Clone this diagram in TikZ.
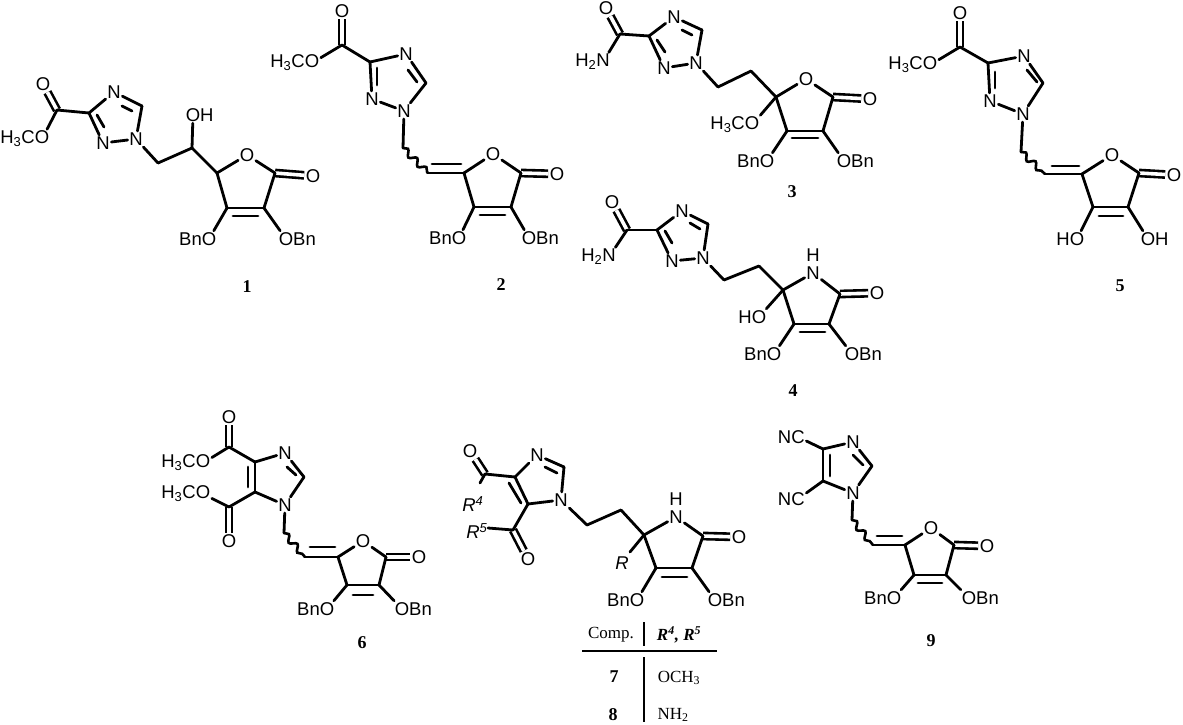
\documentclass[tikz,border=0pt]{standalone}
\usepackage{fontspec}
\setmainfont{Liberation Sans}
\newfontfamily\serifcpd{Liberation Serif}
\usetikzlibrary{decorations.pathmorphing}
\tikzset{
atom/.style={inner sep=1.5pt, font=\fontsize{18.5}{20}\selectfont},
cpd/.style={inner sep=0pt, font=\serifcpd\bfseries\fontsize{18}{20}\selectfont},
tabtext/.style={inner sep=0pt, font=\serifcpd\fontsize{17}{20}\selectfont},
bond/.style={line width=2.8pt, line cap=round, line join=round},
dblbond/.style={line width=2.6pt, double, double distance=3.6pt},
wavy/.style={line width=2.6pt, line cap=round, decorate, decoration={snake, amplitude=3pt, segment length=13pt}}
}
\begin{document}
\begin{tikzpicture}[x=1pt,y=-1pt]
\useasboundingbox (0,0) rectangle (1183,725);
\node[atom] (a1o0) at (43,84){O};
\coordinate (a1c0) at (57,110);
\node[atom] (a1o1) at (42,139){\llap{H\textsubscript{3}C}O};
\coordinate (a1c1) at (89,113);
\node[atom] (a1n0) at (114,92){N};
\coordinate (a1c2) at (142,106);
\node[atom] (a1n1) at (136,139){N};
\node[atom] (a1n2) at (103,143){N};
\coordinate (a1c3) at (158,163);
\coordinate (a1c4) at (192,148);
\node[atom] (a1o2) at (193,115){O\rlap{H}};
\coordinate (a1c5) at (217,173);
\node[atom] (a1o3) at (247,155){O};
\coordinate (a1c6) at (275,173);
\node[atom] (a1o4) at (313,176){O};
\coordinate (a1c7) at (227,208);
\coordinate (a1c8) at (264,208);
\node[atom] (a1o5) at (209,239){\llap{Bn}O};
\node[atom] (a1o6) at (286,239){O\rlap{Bn}};
\coordinate (a1d0) at (97,115);
\coordinate (a1d1) at (104,127);
\coordinate (a1d2) at (122,106);
\coordinate (a1d3) at (132,111);
\coordinate (a1d4) at (233,216);
\coordinate (a1d5) at (258,216);
\draw[dblbond](a1c0) -- (a1o0);
\draw[dblbond](a1c6) -- (a1o4);
\draw[bond](a1c0) -- (a1o1);
\draw[bond](a1c0) -- (a1c1);
\draw[bond](a1c1) -- (a1n0);
\draw[bond](a1n0) -- (a1c2);
\draw[bond](a1c2) -- (a1n1);
\draw[bond](a1n1) -- (a1n2);
\draw[bond](a1n2) -- (a1c1);
\draw[bond](a1d0) -- (a1d1);
\draw[bond](a1d2) -- (a1d3);
\draw[bond](a1n1) -- (a1c3);
\draw[bond](a1c3) -- (a1c4);
\draw[bond](a1c4) -- (a1o2);
\draw[bond](a1c4) -- (a1c5);
\draw[bond](a1c5) -- (a1o3);
\draw[bond](a1o3) -- (a1c6);
\draw[bond](a1c6) -- (a1c8);
\draw[bond](a1c8) -- (a1c7);
\draw[bond](a1c7) -- (a1c5);
\draw[bond](a1d4) -- (a1d5);
\draw[bond](a1c7) -- (a1o5);
\draw[bond](a1c8) -- (a1o6);
\node[cpd] (a1l) at (247,287){1};
\node[atom] (a2o0) at (342,11){O};
\coordinate (a2c0) at (342,45);
\node[atom] (a2o1) at (312,63){\llap{H\textsubscript{3}C}O};
\coordinate (a2c1) at (370,62);
\node[atom] (a2n0) at (406,54){N};
\coordinate (a2c2) at (426,83);
\node[atom] (a2n1) at (404,111){N};
\node[atom] (a2n2) at (372,99){N};
\coordinate (a2w0) at (403,148);
\coordinate (a2w1) at (428,173);
\coordinate (a2c3) at (464,173);
\node[atom] (a2o2) at (493,154){O};
\coordinate (a2c4) at (521,173);
\node[atom] (a2o3) at (557,174){O};
\coordinate (a2c5) at (474,207);
\coordinate (a2c6) at (511,207);
\node[atom] (a2o4) at (459,238){\llap{Bn}O};
\node[atom] (a2o5) at (529,238){O\rlap{Bn}};
\coordinate (a2d0) at (377,68);
\coordinate (a2d1) at (377,85);
\coordinate (a2d2) at (408,70);
\coordinate (a2d3) at (417,82);
\coordinate (a2d4) at (432,164);
\coordinate (a2d5) at (461,164);
\coordinate (a2d6) at (480,215);
\coordinate (a2d7) at (505,215);
\draw[dblbond](a2c0) -- (a2o0);
\draw[dblbond](a2c4) -- (a2o3);
\draw[bond](a2c0) -- (a2o1);
\draw[bond](a2c0) -- (a2c1);
\draw[bond](a2c1) -- (a2n0);
\draw[bond](a2n0) -- (a2c2);
\draw[bond](a2c2) -- (a2n1);
\draw[bond](a2n1) -- (a2n2);
\draw[bond](a2n2) -- (a2c1);
\draw[bond](a2d0) -- (a2d1);
\draw[bond](a2d2) -- (a2d3);
\draw[bond](a2n1) -- (a2w0);
\draw[wavy](a2w0) -- (a2w1);
\draw[bond](a2w1) -- (a2c3);
\draw[bond](a2d4) -- (a2d5);
\draw[bond](a2c3) -- (a2o2);
\draw[bond](a2o2) -- (a2c4);
\draw[bond](a2c4) -- (a2c6);
\draw[bond](a2c6) -- (a2c5);
\draw[bond](a2c5) -- (a2c3);
\draw[bond](a2d6) -- (a2d7);
\draw[bond](a2c5) -- (a2o4);
\draw[bond](a2c6) -- (a2o5);
\node[cpd] (a2l) at (501,285){2};
\node[atom] (a3o0) at (606,8){O};
\coordinate (a3c0) at (620,34);
\node[atom] (a3n3) at (603,62){\llap{H\textsubscript{2}}N};
\coordinate (a3c1) at (649,36);
\node[atom] (a3n0) at (674,17){N};
\coordinate (a3c2) at (702,30);
\node[atom] (a3n1) at (696,63){N};
\node[atom] (a3n2) at (664,68){N};
\coordinate (a3c3) at (718,87);
\coordinate (a3c4) at (751,71);
\coordinate (a3c5) at (776,97);
\node[atom] (a3o1) at (806,79){O};
\coordinate (a3c6) at (833,97);
\node[atom] (a3o2) at (870,99){O};
\coordinate (a3c7) at (787,131);
\coordinate (a3c8) at (823,131);
\node[atom] (a3o3) at (752,125){\llap{H\textsubscript{3}C}O};
\node[atom] (a3o4) at (767,161){\llap{Bn}O};
\node[atom] (a3o5) at (844,161){O\rlap{Bn}};
\coordinate (a3d0) at (657,40);
\coordinate (a3d1) at (665,52);
\coordinate (a3d2) at (682,30);
\coordinate (a3d3) at (692,35);
\coordinate (a3d4) at (792,138);
\coordinate (a3d5) at (818,138);
\draw[dblbond](a3c0) -- (a3o0);
\draw[dblbond](a3c6) -- (a3o2);
\draw[bond](a3c0) -- (a3n3);
\draw[bond](a3c0) -- (a3c1);
\draw[bond](a3c1) -- (a3n0);
\draw[bond](a3n0) -- (a3c2);
\draw[bond](a3c2) -- (a3n1);
\draw[bond](a3n1) -- (a3n2);
\draw[bond](a3n2) -- (a3c1);
\draw[bond](a3d0) -- (a3d1);
\draw[bond](a3d2) -- (a3d3);
\draw[bond](a3n1) -- (a3c3);
\draw[bond](a3c3) -- (a3c4);
\draw[bond](a3c4) -- (a3c5);
\draw[bond](a3c5) -- (a3o1);
\draw[bond](a3o1) -- (a3c6);
\draw[bond](a3c6) -- (a3c8);
\draw[bond](a3c8) -- (a3c7);
\draw[bond](a3c7) -- (a3c5);
\draw[bond](a3d4) -- (a3d5);
\draw[bond](a3c5) -- (a3o3);
\draw[bond](a3c7) -- (a3o4);
\draw[bond](a3c8) -- (a3o5);
\node[cpd] (a3l) at (792,192){3};
\node[atom] (a4o0) at (612,202){O};
\coordinate (a4c0) at (627,230);
\node[atom] (a4n3) at (609,257){\llap{H\textsubscript{2}}N};
\coordinate (a4c1) at (657,230);
\node[atom] (a4n0) at (682,211){N};
\coordinate (a4c2) at (708,224);
\node[atom] (a4n1) at (703,258){N};
\node[atom] (a4n2) at (672,261){N};
\coordinate (a4c3) at (724,280);
\coordinate (a4c4) at (759,266);
\coordinate (a4c5) at (783,290);
\node[atom] (a4n4) at (813,273){N};
\node[atom] (a4h0) at (813,255){H};
\coordinate (a4c6) at (840,294);
\node[atom] (a4o1) at (877,293){O};
\coordinate (a4c7) at (794,324);
\coordinate (a4c8) at (829,324);
\node[atom] (a4o2) at (759,317){\llap{H}O};
\node[atom] (a4o3) at (774,354){\llap{Bn}O};
\node[atom] (a4o4) at (852,354){O\rlap{Bn}};
\coordinate (a4d0) at (665,231);
\coordinate (a4d1) at (672,243);
\coordinate (a4d2) at (690,223);
\coordinate (a4d3) at (700,229);
\coordinate (a4d4) at (800,332);
\coordinate (a4d5) at (825,332);
\draw[dblbond](a4c0) -- (a4o0);
\draw[dblbond](a4c6) -- (a4o1);
\draw[bond](a4c0) -- (a4n3);
\draw[bond](a4c0) -- (a4c1);
\draw[bond](a4c1) -- (a4n0);
\draw[bond](a4n0) -- (a4c2);
\draw[bond](a4c2) -- (a4n1);
\draw[bond](a4n1) -- (a4n2);
\draw[bond](a4n2) -- (a4c1);
\draw[bond](a4d0) -- (a4d1);
\draw[bond](a4d2) -- (a4d3);
\draw[bond](a4n1) -- (a4c3);
\draw[bond](a4c3) -- (a4c4);
\draw[bond](a4c4) -- (a4c5);
\draw[bond](a4c5) -- (a4n4);
\draw[bond](a4n4) -- (a4c6);
\draw[bond](a4c6) -- (a4c8);
\draw[bond](a4c8) -- (a4c7);
\draw[bond](a4c7) -- (a4c5);
\draw[bond](a4d4) -- (a4d5);
\draw[bond](a4c5) -- (a4o2);
\draw[bond](a4c7) -- (a4o3);
\draw[bond](a4c8) -- (a4o4);
\node[cpd] (a4l) at (793,391){4};
\node[atom] (a5o0) at (960,13){O};
\coordinate (a5c0) at (960,47);
\node[atom] (a5o1) at (930,65){\llap{H\textsubscript{3}C}O};
\coordinate (a5c1) at (988,63);
\node[atom] (a5n0) at (1024,56){N};
\coordinate (a5c2) at (1043,83);
\node[atom] (a5n1) at (1023,114){N};
\node[atom] (a5n2) at (990,101){N};
\coordinate (a5w0) at (1021,152);
\coordinate (a5w1) at (1045,174);
\coordinate (a5c3) at (1082,174);
\node[atom] (a5o2) at (1112,155){O};
\coordinate (a5c4) at (1139,173);
\node[atom] (a5o3) at (1174,175){O};
\coordinate (a5c5) at (1093,207);
\coordinate (a5c6) at (1128,207);
\node[atom] (a5o4) at (1077,239){\llap{H}O};
\node[atom] (a5o5) at (1148,239){O\rlap{H}};
\coordinate (a5d0) at (995,72);
\coordinate (a5d1) at (995,88);
\coordinate (a5d2) at (1027,70);
\coordinate (a5d3) at (1037,82);
\coordinate (a5d4) at (1052,166);
\coordinate (a5d5) at (1079,166);
\coordinate (a5d6) at (1099,216);
\coordinate (a5d7) at (1123,216);
\draw[dblbond](a5c0) -- (a5o0);
\draw[dblbond](a5c4) -- (a5o3);
\draw[bond](a5c0) -- (a5o1);
\draw[bond](a5c0) -- (a5c1);
\draw[bond](a5c1) -- (a5n0);
\draw[bond](a5n0) -- (a5c2);
\draw[bond](a5c2) -- (a5n1);
\draw[bond](a5n1) -- (a5n2);
\draw[bond](a5n2) -- (a5c1);
\draw[bond](a5d0) -- (a5d1);
\draw[bond](a5d2) -- (a5d3);
\draw[bond](a5n1) -- (a5w0);
\draw[wavy](a5w0) -- (a5w1);
\draw[bond](a5w1) -- (a5c3);
\draw[bond](a5d4) -- (a5d5);
\draw[bond](a5c3) -- (a5o2);
\draw[bond](a5o2) -- (a5c4);
\draw[bond](a5c4) -- (a5c6);
\draw[bond](a5c6) -- (a5c5);
\draw[bond](a5c5) -- (a5c3);
\draw[bond](a5d6) -- (a5d7);
\draw[bond](a5c5) -- (a5o4);
\draw[bond](a5c6) -- (a5o5);
\node[cpd] (a5l) at (1120,286){5};
\node[atom] (a6o0) at (229,417){O};
\coordinate (a6c0) at (229,447);
\node[atom] (a6o1) at (203,463){\llap{H\textsubscript{3}C}O};
\coordinate (a6c1) at (255,462);
\node[atom] (a6n0) at (285,453){N};
\coordinate (a6c2) at (304,477);
\node[atom] (a6n1) at (285,505){N};
\coordinate (a6c3) at (255,492);
\coordinate (a6c4) at (229,507);
\node[atom] (a6o2) at (229,541){O};
\node[atom] (a6o3) at (203,494){\llap{H\textsubscript{3}C}O};
\coordinate (a6w0) at (284,533);
\coordinate (a6w1) at (305,557);
\coordinate (a6c5) at (338,557);
\node[atom] (a6o4) at (363,541){O};
\coordinate (a6c6) at (386,557);
\node[atom] (a6o5) at (419,557){O};
\coordinate (a6c7) at (347,585);
\coordinate (a6c8) at (379,585);
\node[atom] (a6o6) at (327,609){\llap{Bn}O};
\node[atom] (a6o7) at (402,609){O\rlap{Bn}};
\coordinate (a6d0) at (248,467);
\coordinate (a6d1) at (248,487);
\coordinate (a6d2) at (287,467);
\coordinate (a6d3) at (296,475);
\coordinate (a6d4) at (310,547);
\coordinate (a6d5) at (335,547);
\coordinate (a6d6) at (353,595);
\coordinate (a6d7) at (373,595);
\draw[dblbond](a6c0) -- (a6o0);
\draw[dblbond](a6c4) -- (a6o2);
\draw[dblbond](a6c6) -- (a6o5);
\draw[bond](a6c0) -- (a6o1);
\draw[bond](a6c0) -- (a6c1);
\draw[bond](a6c1) -- (a6n0);
\draw[bond](a6n0) -- (a6c2);
\draw[bond](a6c2) -- (a6n1);
\draw[bond](a6n1) -- (a6c3);
\draw[bond](a6c3) -- (a6c1);
\draw[bond](a6c3) -- (a6c4);
\draw[bond](a6c4) -- (a6o3);
\draw[bond](a6d0) -- (a6d1);
\draw[bond](a6d2) -- (a6d3);
\draw[bond](a6n1) -- (a6w0);
\draw[wavy](a6w0) -- (a6w1);
\draw[bond](a6w1) -- (a6c5);
\draw[bond](a6d4) -- (a6d5);
\draw[bond](a6c5) -- (a6o4);
\draw[bond](a6o4) -- (a6c6);
\draw[bond](a6c6) -- (a6c8);
\draw[bond](a6c8) -- (a6c7);
\draw[bond](a6c7) -- (a6c5);
\draw[bond](a6d6) -- (a6d7);
\draw[bond](a6c7) -- (a6o6);
\draw[bond](a6c8) -- (a6o7);
\node[cpd] (a6l) at (362,643){6};
\node[atom] (a7o0) at (470,451){O};
\coordinate (a7c0) at (485,474);
\node[atom] (a7r0) at (469,504){\textit{R\rlap{\textsuperscript{4}}}};
\coordinate (a7e0) at (480,483);
\coordinate (a7c1) at (515,477);
\node[atom] (a7n0) at (537,455){N};
\coordinate (a7c2) at (564,467);
\node[atom] (a7n1) at (561,500){N};
\coordinate (a7c3) at (528,504);
\coordinate (a7c4) at (513,530);
\node[atom] (a7r1) at (473,531){\textit{R\rlap{\textsuperscript{5}}}};
\coordinate (a7e1) at (488,528);
\node[atom] (a7o1) at (528,559){O};
\coordinate (a7c5) at (587,525);
\coordinate (a7c6) at (621,510);
\coordinate (a7c7) at (644,535);
\node[atom] (a7n2) at (676,517){N};
\node[atom] (a7h0) at (676,499){H};
\coordinate (a7c8) at (703,536);
\node[atom] (a7o2) at (739,537){O};
\coordinate (a7c9) at (656,568);
\coordinate (a7c10) at (692,568);
\node[atom] (a7r2) at (622,563){\textit{R}};
\coordinate (a7e2) at (630,552);
\node[atom] (a7o3) at (637,600){\llap{Bn}O};
\node[atom] (a7o4) at (715,600){O\rlap{Bn}};
\coordinate (a7d0) at (509,483);
\coordinate (a7d1) at (521,503);
\coordinate (a7d2) at (545,467);
\coordinate (a7d3) at (557,473);
\coordinate (a7d4) at (662,577);
\coordinate (a7d5) at (687,577);
\draw[dblbond](a7c0) -- (a7o0);
\draw[dblbond](a7c4) -- (a7o1);
\draw[dblbond](a7c8) -- (a7o2);
\draw[bond](a7c0) -- (a7e0);
\draw[bond](a7c0) -- (a7c1);
\draw[bond](a7c1) -- (a7n0);
\draw[bond](a7n0) -- (a7c2);
\draw[bond](a7c2) -- (a7n1);
\draw[bond](a7n1) -- (a7c3);
\draw[bond](a7c3) -- (a7c1);
\draw[bond](a7c3) -- (a7c4);
\draw[bond](a7c4) -- (a7e1);
\draw[bond](a7d0) -- (a7d1);
\draw[bond](a7d2) -- (a7d3);
\draw[bond](a7n1) -- (a7c5);
\draw[bond](a7c5) -- (a7c6);
\draw[bond](a7c6) -- (a7c7);
\draw[bond](a7c7) -- (a7n2);
\draw[bond](a7n2) -- (a7c8);
\draw[bond](a7c8) -- (a7c10);
\draw[bond](a7c10) -- (a7c9);
\draw[bond](a7c9) -- (a7c7);
\draw[bond](a7d4) -- (a7d5);
\draw[bond](a7c7) -- (a7e2);
\draw[bond](a7c9) -- (a7o3);
\draw[bond](a7c10) -- (a7o4);
\node[tabtext] (tcomp) at (611,635){Comp.};
\node[tabtext] (trr) at (679,635){\bfseries\itshape R\textsuperscript{4}, R\textsuperscript{5}};
\node[cpd] (a7l) at (614,677){7};
\node[tabtext] (tome) at (679,678){OCH\textsubscript{3}};
\node[cpd] (a8l) at (613,715){8};
\node[tabtext] (tnh) at (673,715){NH\textsubscript{2}};
\coordinate (t0) at (644,622);
\coordinate (t1) at (644,646);
\coordinate (t2) at (582,651);
\coordinate (t3) at (717,651);
\coordinate (t4) at (644,657);
\coordinate (t5) at (644,722);
\draw[bond, line cap=butt](t0) -- (t1);
\draw[bond, line cap=butt](t2) -- (t3);
\draw[bond, line cap=butt](t4) -- (t5);
\node[atom] (a9c0) at (798,437){\llap{N}C};
\coordinate (a9c1) at (823,449);
\node[atom] (a9n0) at (853,442){N};
\coordinate (a9c2) at (872,466);
\node[atom] (a9n1) at (853,493){N};
\coordinate (a9c3) at (823,481);
\node[atom] (a9c4) at (798,499){\llap{N}C};
\coordinate (a9w0) at (852,520);
\coordinate (a9w1) at (873,545);
\coordinate (a9c5) at (905,545);
\node[atom] (a9o0) at (931,528){O};
\coordinate (a9c6) at (954,545);
\node[atom] (a9o1) at (987,546){O};
\coordinate (a9c7) at (914,575);
\coordinate (a9c8) at (946,575);
\node[atom] (a9o2) at (894,598){\llap{Bn}O};
\node[atom] (a9o3) at (969,598){O\rlap{Bn}};
\coordinate (a9d0) at (830,455);
\coordinate (a9d1) at (830,476);
\coordinate (a9d2) at (853,455);
\coordinate (a9d3) at (863,465);
\coordinate (a9d4) at (877,536);
\coordinate (a9d5) at (902,536);
\coordinate (a9d6) at (918,583);
\coordinate (a9d7) at (942,583);
\draw[dblbond](a9c6) -- (a9o1);
\draw[bond](a9c0) -- (a9c1);
\draw[bond](a9c1) -- (a9n0);
\draw[bond](a9n0) -- (a9c2);
\draw[bond](a9c2) -- (a9n1);
\draw[bond](a9n1) -- (a9c3);
\draw[bond](a9c3) -- (a9c1);
\draw[bond](a9c3) -- (a9c4);
\draw[bond](a9d0) -- (a9d1);
\draw[bond](a9d2) -- (a9d3);
\draw[bond](a9n1) -- (a9w0);
\draw[wavy](a9w0) -- (a9w1);
\draw[bond](a9w1) -- (a9c5);
\draw[bond](a9d4) -- (a9d5);
\draw[bond](a9c5) -- (a9o0);
\draw[bond](a9o0) -- (a9c6);
\draw[bond](a9c6) -- (a9c8);
\draw[bond](a9c8) -- (a9c7);
\draw[bond](a9c7) -- (a9c5);
\draw[bond](a9d6) -- (a9d7);
\draw[bond](a9c7) -- (a9o2);
\draw[bond](a9c8) -- (a9o3);
\node[cpd] (a9l) at (931,641){9};
\end{tikzpicture}
\end{document}
